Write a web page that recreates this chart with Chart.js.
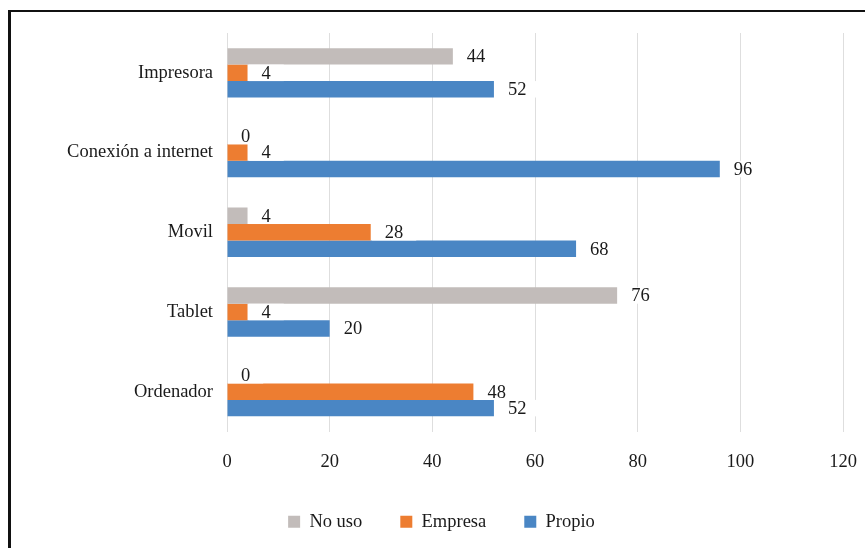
<!DOCTYPE html>
<html>
<head>
<meta charset="utf-8">
<script src="https://cdn.jsdelivr.net/npm/chart.js@4"></script>
<style>
  html, body { margin: 0; padding: 0; background: #fff; overflow: hidden; }
  #wrap { position: relative; width: 865px; height: 548px; }
  #frame { position: absolute; left: 8px; top: 10px; width: 900px; height: 600px;
           border-left: 3px solid #111; border-top: 2px solid #111; }
  #grafica { position: absolute; left: 0; top: 0; }
</style>
</head>
<body>
<div id="wrap">
  <div id="frame"></div>
  <canvas id="grafica" width="865" height="548"></canvas>
</div>
<script>
const labels = ['Impresora', 'Conexión a internet', 'Movil', 'Tablet', 'Ordenador'];
const noUso = [44, 0, 4, 76, 0];
const empresa = [4, 4, 28, 4, 48];
const propio = [52, 96, 68, 20, 52];
const xTicks = [0, 20, 40, 60, 80, 100, 120];

const serif = '"Liberation Serif", "Times New Roman", serif';
const fsize = 18.5;

// etiquetas de valor con fondo blanco al final de cada barra
const barLabels = {
  id: 'barLabels',
  afterDatasetsDraw(chart) {
    const ctx = chart.ctx;
    ctx.save();
    ctx.font = fsize + 'px ' + serif;
    ctx.textBaseline = 'middle';
    ctx.textAlign = 'left';
    chart.data.datasets.forEach((ds, i) => {
      const meta = chart.getDatasetMeta(i);
      meta.data.forEach((bar, j) => {
        const txt = String(ds.data[j]);
        const w = ctx.measureText(txt).width;
        const h = bar.height;
        ctx.fillStyle = '#fff';
        ctx.fillRect(bar.x + 1, bar.y - h / 2, w + 26, h);
        ctx.fillStyle = '#1a1a1a';
        ctx.fillText(txt, bar.x + 14, bar.y + 1);
      });
    });
    ctx.restore();
  }
};

const data = {
  labels: labels,
  datasets: [
    { label: 'No uso', data: noUso, backgroundColor: '#c2bcba' },
    { label: 'Empresa', data: empresa, backgroundColor: '#ed7d31' },
    { label: 'Propio', data: propio, backgroundColor: '#4a86c4' }
  ]
};

const config = {
  type: 'bar',
  data: data,
  plugins: [barLabels],
  options: {
    indexAxis: 'y',
    responsive: false,
    animation: false,
    barPercentage: 1,
    categoryPercentage: 0.62,
    layout: { padding: { top: 33, right: 22, bottom: 7, left: 40 } },
    scales: {
      x: {
        min: 0, max: 120,
        afterBuildTicks(scale) { scale.ticks = xTicks.map(v => ({ value: v })); },
        afterFit(scale) {
          scale.height = 43;
          scale.paddingLeft = 0;
          scale.paddingRight = 0;
        },
        grid: { color: '#dedede', drawTicks: false },
        border: { display: false },
        ticks: { padding: 20, color: '#1a1a1a', font: { family: serif, size: fsize } }
      },
      y: {
        afterFit(scale) { scale.width = 187; },
        grid: { display: false, drawTicks: false },
        border: { display: false },
        ticks: { padding: 14, color: '#1a1a1a', font: { family: serif, size: fsize } }
      }
    },
    plugins: {
      tooltip: { enabled: false },
      legend: {
        position: 'bottom',
        labels: {
          boxWidth: 12, boxHeight: 12, padding: 38,
          color: '#1a1a1a', font: { family: serif, size: fsize }
        }
      }
    }
  }
};

new Chart(document.querySelector('#grafica'), config);
</script>
</body>
</html>
